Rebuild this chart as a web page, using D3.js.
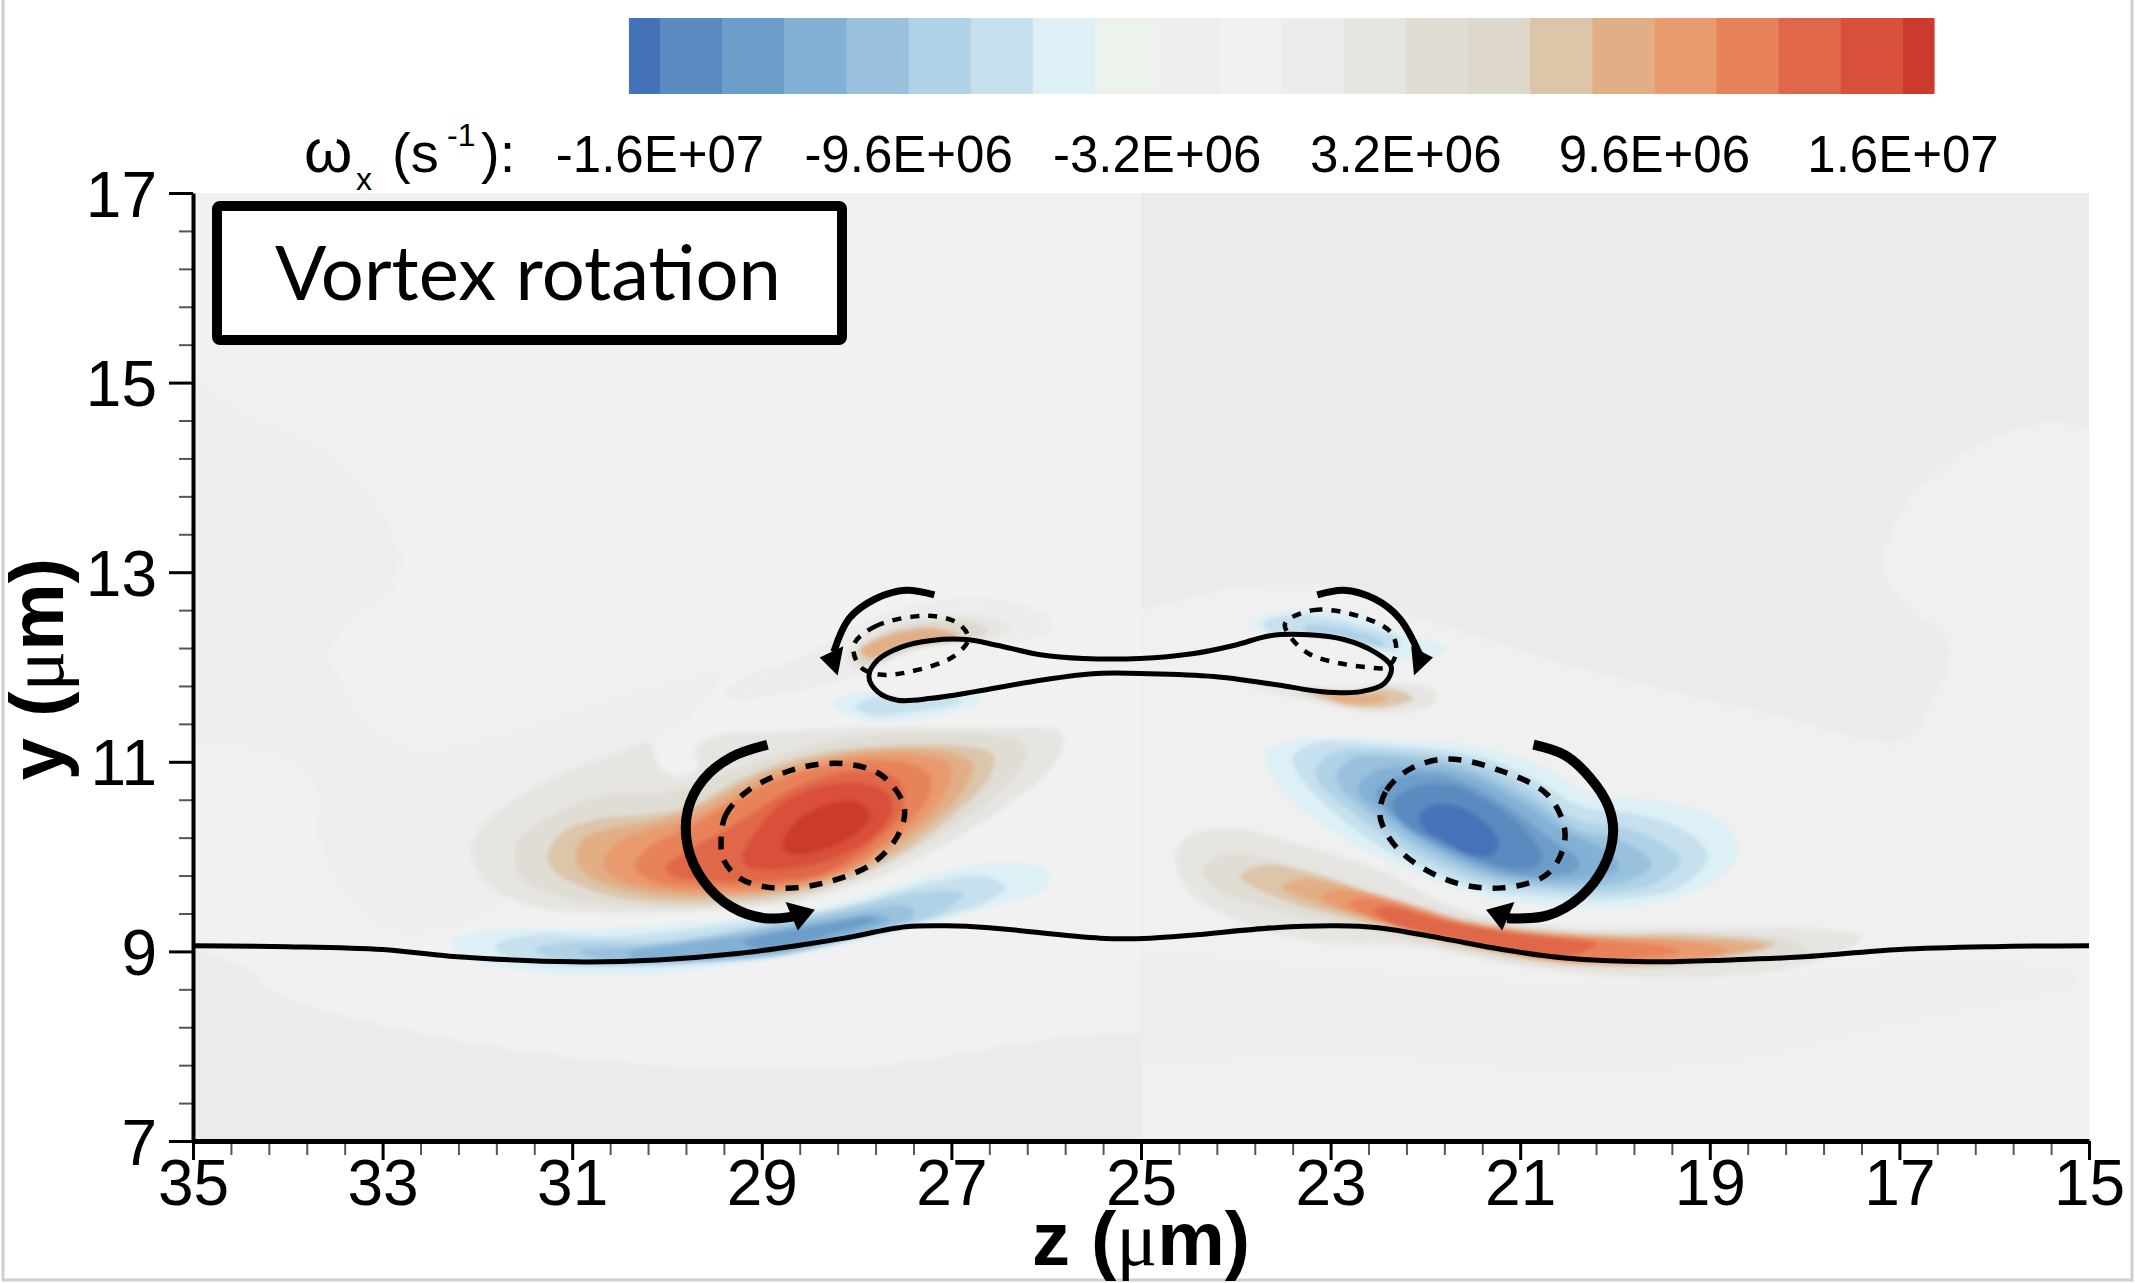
<!DOCTYPE html>
<html>
<head>
<meta charset="utf-8">
<script src="https://cdn.jsdelivr.net/npm/d3@7"></script>
<style>
  html, body { margin: 0; padding: 0; background: #fff; }
  svg { display: block; }
  text { font-family: "Liberation Sans", Arial, sans-serif; fill: #000; }
</style>
</head>
<body>
<svg id="chart" width="2135" height="1283"></svg>
<script>
// tick labels and colour levels
const zMajor = [35, 33, 31, 29, 27, 25, 23, 21, 19, 17, 15];
const yMajor = [17, 15, 13, 11, 9, 7];
const legendTicks = [-1.6e7, -9.6e6, -3.2e6, 3.2e6, 9.6e6, 1.6e7];
const legendLabels = ['-1.6E+07', '-9.6E+06', '-3.2E+06', '3.2E+06', '9.6E+06', '1.6E+07'];
const levelColors = ['#4472b8', '#5a8abf', '#6d9dc9', '#83b0d5', '#99c1de', '#afd2e6', '#c6e0ee', '#ddf0f6',
    '#ebf3ec', '#eeeeee', '#f1f1f1', '#ececec', '#e6e5e2', '#e0ddd4', '#ddd8cb', '#dcc5a9',
    '#e2ae86', '#e99a6e', '#e8825a', '#e0674a', '#d9503a', '#cb3a2c'];
const levelEdges = [-1.6e7, -1.44e7, -1.28e7, -1.12e7, -9.6e6, -8e6, -6.4e6, -4.8e6, -3.2e6, -1.6e6, 0,
    1.6e6, 3.2e6, 4.8e6, 6.4e6, 8e6, 9.6e6, 1.12e7, 1.28e7, 1.44e7, 1.6e7];

// faint background patches, [z, y]
const backLeftSide = [[35.4, 15.1], [34.39, 14.64], [33.42, 14.15], [32.84, 13.27], [32.9, 12.84], [33.48, 12.36],
    [33.54, 12.04], [33.09, 11.34], [32.64, 11.12], [31.16, 11.47], [30.1, 11.8], [29.41, 11.9], [30.12, 11.2],
    [31, 10.4], [31.9, 9.4], [33, 9.25], [33.6, 10.0], [33.74, 10.81], [34.19, 11.09], [34.84, 11.2], [35.4, 11.3]];
const backLeftBottom = [[35.4, 9.0], [34.4, 8.8], [34.13, 8.56], [31.8, 7.99], [29.22, 7.75], [27.92, 7.78],
    [24.6, 8.0], [24.6, 6.7], [35.4, 6.7]];
const backRightTop = [[25.4, 17.4], [14.7, 17.4], [14.7, 14.6], [15.5, 14.58], [16.3, 14.27], [16.97, 13.67],
    [17.17, 13.07], [16.97, 12.69], [16.5, 12.28], [16.5, 11.97], [16.97, 11.23], [17.3, 11.23], [18.31, 11.49],
    [20.31, 11.97], [21.99, 12.5], [23, 12.85], [24, 12.84], [25.4, 12.7]];
const backRightBottom = [[25.6, 8.87], [22.99, 8.77], [20.31, 8.63], [18.31, 8.72], [16.3, 8.87], [15.1, 8.70],
    [15.3, 8.63], [16.97, 8.28], [18.98, 7.85], [20.98, 7.80], [22.99, 7.96], [25.6, 7.96]];

// vorticity bands, [value, [[z, y], ...]], outermost first
const leftVortex = [
    [2.4e6, [[32.07, 10.10], [31.85, 10.42], [31.20, 10.84], [30.54, 11.09], [30.17, 11.20], [30.10, 10.98], [29.88, 10.84], [29.67, 10.95], [29.71, 11.12], [29.49, 11.27], [28.88, 11.32], [27.92, 11.36], [26.60, 11.36], [25.86, 11.32], [25.82, 11.16], [25.99, 10.88], [26.43, 10.53], [27.04, 10.14], [27.74, 9.79], [28.57, 9.54], [29.45, 9.44], [30.54, 9.40], [31.41, 9.47], [31.94, 9.75]]],
    [4.0e6, [[31.61, 10.00], [31.57, 10.18], [31.24, 10.42], [30.67, 10.65], [29.97, 10.69], [29.45, 10.86], [28.88, 11.05], [28.13, 11.25], [27.04, 11.30], [26.26, 11.21], [26.21, 11.05], [26.43, 10.74], [27.04, 10.28], [27.74, 9.89], [28.57, 9.58], [29.45, 9.47], [30.32, 9.47], [31.15, 9.58], [31.55, 9.79]]],
    [7.2e6, [[31.26, 10.00], [31.11, 10.25], [30.76, 10.39], [30.23, 10.44], [29.80, 10.51], [29.23, 10.81], [28.57, 11.05], [27.83, 11.16], [26.82, 11.16], [26.56, 11.07], [26.60, 10.84], [27.04, 10.39], [27.65, 9.96], [28.44, 9.65], [29.40, 9.52], [30.32, 9.54], [30.89, 9.68], [31.20, 9.86]]],
    [8.8e6, [[30.96, 10.00], [30.89, 10.18], [30.58, 10.30], [30.15, 10.37], [29.66, 10.53], [28.97, 10.88], [28.13, 11.09], [27.13, 11.12], [26.78, 10.98], [26.87, 10.70], [27.30, 10.28], [27.83, 9.93], [28.57, 9.67], [29.45, 9.58], [30.23, 9.61], [30.76, 9.75], [30.93, 9.89]]],
    [1.04e7, [[30.67, 9.93], [30.54, 10.14], [30.19, 10.28], [29.67, 10.44], [28.79, 10.88], [28.00, 11.07], [27.30, 11.07], [27.00, 10.95], [27.09, 10.63], [27.52, 10.21], [28.05, 9.86], [28.79, 9.65], [29.58, 9.61], [30.23, 9.68], [30.58, 9.79]]],
    [1.2e7, [[30.34, 9.89], [30.19, 10.10], [29.80, 10.30], [28.79, 10.83], [28.05, 11.00], [27.43, 10.98], [27.22, 10.84], [27.26, 10.60], [27.65, 10.18], [28.13, 9.86], [28.79, 9.70], [29.58, 9.67], [30.15, 9.74]]],
    [1.36e7, [[30.02, 9.88], [29.84, 10.03], [29.32, 10.32], [28.66, 10.72], [28.09, 10.90], [27.65, 10.86], [27.52, 10.74], [27.52, 10.49], [27.83, 10.14], [28.35, 9.82], [28.97, 9.74], [29.58, 9.74], [29.93, 9.79]]],
    [1.52e7, [[29.21, 9.98], [29.10, 10.21], [28.79, 10.56], [28.35, 10.75], [27.92, 10.77], [27.65, 10.65], [27.65, 10.42], [27.92, 10.14], [28.40, 9.93], [28.88, 9.86], [29.14, 9.89]]],
    [1.65e7, [[28.78, 10.14], [28.66, 10.35], [28.35, 10.54], [28.00, 10.58], [27.85, 10.44], [27.96, 10.28], [28.27, 10.10], [28.62, 10.02], [28.77, 10.07]]]
];
const leftWall = [
    [-5.6e6, [[32.25, 9.12], [31.85, 9.23], [30.76, 9.24], [29.45, 9.33], [28.35, 9.47], [27.26, 9.79], [26.60, 9.93], [25.99, 9.86], [25.99, 9.68], [26.60, 9.47], [27.48, 9.23], [28.79, 8.95], [30.10, 8.77], [31.41, 8.79], [32.16, 8.95]]],
    [-7.2e6, [[31.81, 9.07], [31.41, 9.17], [30.54, 9.16], [29.23, 9.30], [28.13, 9.47], [27.26, 9.72], [26.65, 9.79], [26.43, 9.68], [26.60, 9.54], [27.48, 9.26], [28.57, 9.02], [29.67, 8.87], [30.54, 8.84], [31.41, 8.87], [31.76, 8.98]]],
    [-8.8e6, [[31.39, 9.02], [30.98, 9.10], [30.10, 9.10], [28.79, 9.31], [27.92, 9.51], [27.26, 9.63], [26.87, 9.61], [27.09, 9.42], [27.92, 9.16], [28.79, 8.96], [30.10, 8.86], [30.98, 8.87]]],
    [-1.04e7, [[30.93, 9.00], [30.10, 9.07], [28.79, 9.28], [27.92, 9.44], [27.44, 9.47], [27.39, 9.38], [27.92, 9.19], [28.79, 8.96], [29.67, 8.89], [30.54, 8.89]]],
    [-1.2e7, [[30.41, 8.98], [29.23, 9.16], [28.35, 9.31], [27.74, 9.38], [27.65, 9.33], [28.13, 9.16], [28.79, 9.00], [29.67, 8.91], [30.32, 8.92]]],
    [-1.36e7, [[29.2, 9.1], [28.4, 9.28], [27.85, 9.37], [27.8, 9.33], [28.3, 9.17], [28.9, 9.02]]]
];
const rightVortex = [
    [-5.6e6, [[23.70, 11.09], [23.37, 11.23], [22.28, 11.23], [21.41, 11.16], [20.75, 10.95], [20.27, 10.67], [19.75, 10.61], [19.22, 10.53], [18.78, 10.28], [18.70, 10.00], [19.05, 9.68], [19.88, 9.47], [20.75, 9.49], [21.63, 9.65], [22.63, 10.07], [23.29, 10.49], [23.64, 10.86]]],
    [-7.2e6, [[23.40, 11.05], [23.16, 11.20], [22.46, 11.18], [21.41, 11.05], [20.84, 10.81], [20.36, 10.53], [19.75, 10.44], [19.22, 10.25], [19.02, 10.00], [19.31, 9.68], [19.88, 9.56], [20.75, 9.58], [21.50, 9.68], [22.46, 10.10], [23.07, 10.56], [23.35, 10.88]]],
    [-8.8e6, [[23.16, 10.91], [22.98, 11.09], [22.46, 11.12], [21.50, 11.00], [20.88, 10.70], [20.40, 10.39], [19.88, 10.30], [19.44, 10.10], [19.31, 9.96], [19.53, 9.74], [19.96, 9.63], [20.75, 9.65], [21.41, 9.74], [22.24, 10.10], [22.85, 10.53], [23.11, 10.77]]],
    [-1.04e7, [[22.94, 10.86], [22.76, 11.04], [22.28, 11.05], [21.54, 10.93], [20.88, 10.60], [20.40, 10.28], [19.96, 10.18], [19.61, 9.93], [19.75, 9.79], [20.10, 9.70], [20.75, 9.70], [21.36, 9.79], [22.06, 10.10], [22.63, 10.49], [22.89, 10.72]]],
    [-1.2e7, [[22.72, 10.70], [22.54, 10.90], [22.11, 10.95], [21.54, 10.86], [20.97, 10.56], [20.53, 10.28], [20.01, 10.00], [19.96, 9.86], [20.27, 9.77], [20.75, 9.75], [21.28, 9.82], [21.93, 10.10], [22.46, 10.46]]],
    [-1.36e7, [[22.52, 10.67], [22.28, 10.84], [21.84, 10.86], [21.41, 10.70], [20.97, 10.42], [20.71, 10.21], [20.38, 9.96], [20.40, 9.86], [20.75, 9.79], [21.19, 9.84], [21.84, 10.10], [22.32, 10.42]]],
    [-1.52e7, [[22.35, 10.56], [22.15, 10.72], [21.76, 10.76], [21.41, 10.63], [21.01, 10.35], [20.77, 10.00], [20.84, 9.89], [21.14, 9.88], [21.76, 10.10], [22.24, 10.35]]],
    [-1.65e7, [[22.06, 10.42], [21.93, 10.54], [21.67, 10.53], [21.41, 10.39], [21.23, 10.18], [21.28, 10.03], [21.54, 10.02], [21.84, 10.18], [22.02, 10.30]]]
];
const rightWall = [
    [2.4e6, [[24.64, 10.00], [24.51, 10.21], [24.03, 10.30], [23.37, 10.14], [22.50, 9.86], [21.63, 9.44], [20.53, 9.26], [19.22, 9.25], [18.05, 9.25], [17.4, 9.15], [18.05, 8.84], [19.66, 8.72], [20.97, 8.84], [22.06, 9.05], [23.16, 9.10], [23.81, 9.26], [24.47, 9.61]]],
    [4.0e6, [[24.36, 9.86], [24.12, 10.03], [23.59, 9.96], [22.72, 9.68], [21.63, 9.37], [20.53, 9.21], [19.22, 9.20], [18.17, 9.12], [17.95, 9.0], [19.22, 8.84], [20.53, 8.84], [21.41, 8.96], [22.46, 9.19], [23.59, 9.44], [24.21, 9.65]]],
    [7.2e6, [[23.95, 9.79], [23.72, 9.91], [23.16, 9.82], [22.46, 9.58], [21.41, 9.30], [20.10, 9.18], [19.22, 9.18], [18.3, 9.08], [19.22, 8.87], [20.53, 8.87], [21.49, 9.03], [22.46, 9.26], [23.59, 9.58]]],
    [8.8e6, [[23.51, 9.68], [23.29, 9.77], [22.81, 9.68], [22.06, 9.47], [21.41, 9.26], [20.10, 9.16], [19.22, 9.14], [18.4, 9.06], [19.22, 8.9], [20.53, 8.89], [21.49, 9.05], [22.46, 9.30], [23.16, 9.51]]],
    [1.04e7, [[23.10, 9.58], [22.94, 9.65], [22.46, 9.58], [21.84, 9.37], [20.97, 9.22], [20.10, 9.15], [19.05, 9.08], [18.8, 9.0], [19.22, 8.92], [20.53, 8.89], [21.49, 9.05], [22.46, 9.31], [22.94, 9.47]]],
    [1.2e7, [[22.81, 9.51], [22.63, 9.56], [22.19, 9.47], [21.41, 9.26], [20.53, 9.15], [19.59, 9.07], [19.3, 9.0], [19.88, 8.92], [20.53, 8.91], [21.49, 9.07], [22.46, 9.31]]],
    [1.36e7, [[22.54, 9.44], [22.37, 9.47], [21.84, 9.33], [20.97, 9.18], [20.2, 9.08], [20.5, 8.95], [21.49, 9.09], [22.28, 9.26]]]
];
const bubbleSpots = [
    [8e5, [[29.41, 11.68], [29.2, 11.88], [28.58, 12.1], [28.21, 12.32], [27.44, 12.64], [26.61, 12.72], [25.97, 12.53], [25.97, 12.37], [26.43, 12.25], [26.84, 12.29], [27.44, 12.15], [27.98, 11.92], [28.6, 11.75]]],
    [2.4e6, [[28.12, 12.07], [27.80, 12.43], [27.21, 12.53], [26.61, 12.53], [26.38, 12.41], [26.61, 12.29], [26.84, 12.29], [27.44, 12.16], [27.94, 11.97]]],
    [5.6e6, [[28.03, 12.11], [27.71, 12.37], [27.16, 12.48], [26.75, 12.46], [26.61, 12.39], [26.79, 12.29], [27.44, 12.18], [27.92, 12.00]]],
    [8.8e6, [[27.96, 12.18], [27.66, 12.34], [27.21, 12.41], [26.93, 12.34], [27.07, 12.29], [27.48, 12.23], [27.87, 12.09]]],
    [-5.6e6, [[28.26, 11.62], [27.89, 11.74], [27.44, 11.65], [26.79, 11.72], [26.66, 11.65], [27.44, 11.44], [27.99, 11.46]]],
    [-7.2e6, [[28.01, 11.58], [27.76, 11.69], [27.44, 11.64], [26.98, 11.69], [26.89, 11.64], [27.44, 11.52], [27.85, 11.49]]],
    [-5.6e6, [[23.82, 12.46], [23.41, 12.60], [22.86, 12.60], [22.22, 12.36], [21.76, 12.18], [22.18, 12.06], [22.40, 12.14], [22.86, 12.29], [23.32, 12.34], [23.69, 12.34]]],
    [-7.2e6, [[23.71, 12.46], [23.37, 12.55], [22.77, 12.46], [22.27, 12.29], [22.31, 12.18], [22.72, 12.27], [23.23, 12.34], [23.64, 12.37]]],
    [-8.8e6, [[23.27, 12.43], [22.86, 12.41], [22.43, 12.27], [22.47, 12.21], [22.86, 12.30], [23.25, 12.35]]],
    [2.4e6, [[24.01, 11.85], [23.09, 11.74], [22.43, 11.83], [21.90, 11.74], [21.90, 11.62], [22.49, 11.51], [23.23, 11.65]]],
    [7.2e6, [[23.36, 11.78], [22.68, 11.74], [22.40, 11.78], [22.13, 11.67], [22.40, 11.58], [22.86, 11.60]]],
    [8.8e6, [[23.09, 11.72], [22.63, 11.72], [22.40, 11.69], [22.49, 11.62], [22.86, 11.62]]]
];

// solid interface lines
const wallLine = [[35, 9.06], [34, 9.05], [33, 9.02], [32.29, 8.95], [30.98, 8.89], [30.10, 8.91], [29.23, 8.98], [28.57, 9.07], [28.13, 9.14], [27.48, 9.26], [27.04, 9.27], [26.60, 9.25], [25.43, 9.14], [24.9, 9.14], [24.47, 9.17], [23.59, 9.25], [22.94, 9.27], [22.50, 9.25], [21.84, 9.14], [21.19, 9.02], [20.53, 8.93], [19.66, 8.89], [18.78, 8.91], [18.05, 8.94], [17, 9.02], [16, 9.05], [15, 9.06]];
const bubbleLine = [[27.87, 11.90], [27.78, 12.07], [27.53, 12.21], [27.21, 12.28], [26.84, 12.29], [26.52, 12.23], [26.06, 12.13], [25.61, 12.09], [25.01, 12.09], [24.46, 12.14], [24.01, 12.23], [23.64, 12.33], [23.23, 12.34], [22.86, 12.29], [22.54, 12.16], [22.36, 12.00], [22.43, 11.83], [22.68, 11.74], [23.09, 11.74], [23.55, 11.81], [24.23, 11.90], [24.92, 11.93], [25.51, 11.93], [26.06, 11.86], [26.75, 11.74], [27.21, 11.67], [27.57, 11.65], [27.78, 11.74]];

// dashed vortex outlines
const dashedMainLeft = [[29.43, 10.16], [29.38, 10.44], [29.14, 10.70], [28.62, 10.93], [28.14, 10.98], [27.74, 10.86], [27.50, 10.53], [27.55, 10.25], [27.83, 9.93], [28.35, 9.72], [28.88, 9.67], [29.23, 9.77], [29.40, 9.96]];
const dashedMainRight = [[22.48, 10.44], [22.41, 10.70], [22.15, 10.93], [21.76, 11.03], [21.19, 10.90], [20.71, 10.65], [20.53, 10.28], [20.58, 10.00], [20.75, 9.79], [21.19, 9.67], [21.67, 9.72], [22.11, 9.93], [22.37, 10.18]];
const dashedTopLeft = [[28.03, 12.23], [27.80, 12.43], [27.25, 12.54], [26.93, 12.46], [26.82, 12.30], [26.98, 12.11], [27.44, 11.95], [27.76, 11.92], [27.96, 12.00]];
const dashedTopRight = [[23.48, 12.46], [23.18, 12.60], [22.68, 12.53], [22.36, 12.36], [22.31, 12.14], [22.40, 12.00], [22.63, 12.00], [23.00, 12.06], [23.23, 12.14], [23.41, 12.30]];

// rotation arrows: shaft and head
const arrowMainLeft = [[28.94, 11.18], [29.32, 11.05], [29.62, 10.81], [29.78, 10.49], [29.78, 10.10], [29.62, 9.75], [29.32, 9.47], [28.97, 9.35], [28.66, 9.37]];
const headMainLeft = [[28.75, 9.52], [28.44, 9.44], [28.62, 9.22]];
const arrowMainRight = [[20.86, 11.18], [20.53, 11.07], [20.27, 10.84], [20.07, 10.53], [20.02, 10.25], [20.12, 9.89], [20.36, 9.58], [20.71, 9.38], [21.14, 9.35]];
const headMainRight = [[21.06, 9.52], [21.36, 9.44], [21.19, 9.22]];
const arrowTopLeft = [[27.18, 12.76], [27.48, 12.81], [27.80, 12.72], [28.08, 12.51], [28.24, 12.16]];
const headTopLeft = [[28.39, 12.10], [28.14, 12.22], [28.20, 11.91]];
const arrowTopRight = [[23.14, 12.76], [22.86, 12.81], [22.54, 12.72], [22.27, 12.51], [22.06, 12.13]];
const headTopRight = [[21.92, 12.10], [22.15, 12.22], [22.12, 11.91]];

const svg = d3.select('#chart');

const x = d3.scaleLinear().domain([35, 15]).range([193, 2089]);
const y = d3.scaleLinear().domain([7, 17]).range([1141, 193]);
const legendX = d3.scaleLinear().domain([-1.6e7, 1.6e7]).range([660, 1903]);
const levelColor = d3.scaleThreshold().domain(levelEdges).range(levelColors);

const closedPath = d3.line().x(d => x(d[0])).y(d => y(d[1])).curve(d3.curveCatmullRomClosed.alpha(0.5));
const openPath = d3.line().x(d => x(d[0])).y(d => y(d[1])).curve(d3.curveCatmullRom.alpha(0.5));
const straightPath = d3.line().x(d => x(d[0])).y(d => y(d[1]));

// photo frame
svg.append('rect').attr('x', 3).attr('y', -4).attr('width', 2129).attr('height', 1284)
    .attr('fill', '#fff').attr('stroke', '#cfcfcf').attr('stroke-width', 3);

const defs = svg.append('defs');
defs.append('filter').attr('id', 'soft').attr('x', '-5%').attr('y', '-5%').attr('width', '110%').attr('height', '110%')
    .append('feGaussianBlur').attr('stdDeviation', 2);
defs.append('filter').attr('id', 'faint').attr('x', '-5%').attr('y', '-5%').attr('width', '110%').attr('height', '110%')
    .append('feGaussianBlur').attr('stdDeviation', 3);
defs.append('clipPath').attr('id', 'plotClip').append('rect')
    .attr('x', x(35)).attr('y', y(17)).attr('width', x(15) - x(35)).attr('height', y(7) - y(17));
defs.append('clipPath').attr('id', 'leftClip').append('rect')
    .attr('x', x(35)).attr('y', y(17)).attr('width', x(25) - x(35)).attr('height', y(7) - y(17));
defs.append('clipPath').attr('id', 'rightClip').append('rect')
    .attr('x', x(25)).attr('y', y(17)).attr('width', x(15) - x(25)).attr('height', y(7) - y(17));

// field
const plot = svg.append('g').attr('clip-path', 'url(#plotClip)');
plot.append('rect').attr('x', x(35)).attr('y', y(17)).attr('width', x(25) - x(35)).attr('height', y(7) - y(17)).attr('fill', '#f1f1f1');
plot.append('rect').attr('x', x(25)).attr('y', y(17)).attr('width', x(15) - x(25)).attr('height', y(7) - y(17)).attr('fill', '#f0f0f0');

const backLeft = plot.append('g').attr('clip-path', 'url(#leftClip)');
backLeft.append('path').attr('d', closedPath(backLeftSide)).attr('fill', '#eeeeee').attr('filter', 'url(#faint)');
backLeft.append('path').attr('d', closedPath(backLeftBottom)).attr('fill', '#ebebeb').attr('filter', 'url(#faint)');
const backRight = plot.append('g').attr('clip-path', 'url(#rightClip)');
backRight.append('path').attr('d', closedPath(backRightTop)).attr('fill', '#ebebeb').attr('filter', 'url(#faint)');
backRight.append('path').attr('d', closedPath(backRightBottom)).attr('fill', '#ededed').attr('filter', 'url(#faint)');

const bands = plot.append('g').attr('filter', 'url(#soft)');
[leftVortex, leftWall, rightVortex, rightWall, bubbleSpots].forEach(group => {
    bands.append('g').selectAll('path').data(group).join('path')
        .attr('d', d => closedPath(d[1]))
        .attr('fill', d => levelColor(d[0]));
});

// interface lines
plot.append('path').attr('d', openPath(wallLine)).attr('fill', 'none').attr('stroke', '#000').attr('stroke-width', 5);
plot.append('path').attr('d', closedPath(bubbleLine)).attr('fill', 'none').attr('stroke', '#000').attr('stroke-width', 5);

// dashed outlines
[dashedMainLeft, dashedMainRight].forEach(p => {
    plot.append('path').attr('d', closedPath(p)).attr('fill', 'none').attr('stroke', '#000')
        .attr('stroke-width', 5.5).attr('stroke-dasharray', '13 11');
});
[dashedTopLeft, dashedTopRight].forEach(p => {
    plot.append('path').attr('d', closedPath(p)).attr('fill', 'none').attr('stroke', '#000')
        .attr('stroke-width', 4.5).attr('stroke-dasharray', '9 9');
});

// arrows
[[arrowMainLeft, headMainLeft, 10], [arrowMainRight, headMainRight, 10],
 [arrowTopLeft, headTopLeft, 7], [arrowTopRight, headTopRight, 7]].forEach(([shaft, head, w]) => {
    plot.append('path').attr('d', openPath(shaft)).attr('fill', 'none').attr('stroke', '#000').attr('stroke-width', w);
    plot.append('path').attr('d', straightPath(head) + 'Z').attr('fill', '#000');
});

// axes
function minorTicks(values) {
    const out = [];
    for (let i = 0; i < values.length - 1; i++) {
        const step = (values[i + 1] - values[i]) / 5;
        for (let k = 1; k < 5; k++) out.push(values[i] + k * step);
    }
    return out;
}

const xMinor = svg.append('g').attr('transform', `translate(0,${y(7)})`)
    .call(d3.axisBottom(x).tickValues(minorTicks(zMajor)).tickSize(14).tickFormat(''));
xMinor.select('.domain').remove();
xMinor.selectAll('line').attr('stroke', '#555').attr('stroke-width', 2);

const xAxis = svg.append('g').attr('transform', `translate(0,${y(7)})`)
    .call(d3.axisBottom(x).tickValues(zMajor).tickSize(19).tickSizeOuter(0).tickPadding(0).tickFormat(d3.format('d')));
xAxis.select('.domain').attr('stroke', '#000').attr('stroke-width', 5);
xAxis.selectAll('line').attr('stroke', '#000').attr('stroke-width', 3);
xAxis.selectAll('text').attr('font-size', 64).attr('font-family', '"Liberation Sans"');

const yMinor = svg.append('g').attr('transform', `translate(${x(35)},0)`)
    .call(d3.axisLeft(y).tickValues(minorTicks(yMajor)).tickSize(14).tickFormat(''));
yMinor.select('.domain').remove();
yMinor.selectAll('line').attr('stroke', '#555').attr('stroke-width', 2);

const yAxis = svg.append('g').attr('transform', `translate(${x(35)},0)`)
    .call(d3.axisLeft(y).tickValues(yMajor).tickSize(24).tickSizeOuter(0).tickPadding(12).tickFormat(d3.format('d')));
yAxis.select('.domain').attr('stroke', '#000').attr('stroke-width', 4);
yAxis.selectAll('line').attr('stroke', '#000').attr('stroke-width', 3);
yAxis.selectAll('text').attr('font-size', 64).attr('font-family', '"Liberation Sans"').attr('dy', '0.36em');

function axisTitle(sel, name) {
    sel.attr('font-size', 76).attr('font-weight', 'bold');
    sel.append('tspan').text(name + ' (');
    sel.append('tspan').attr('font-weight', 'normal').style('font-family', '"Liberation Serif"').text('\u03bc');
    sel.append('tspan').text('m)');
}
svg.append('text').attr('x', 1141).attr('y', 1265).attr('text-anchor', 'middle').call(axisTitle, 'z');
svg.append('text').attr('transform', 'translate(63,669) rotate(-90)').attr('text-anchor', 'middle').call(axisTitle, 'y');

// colour bar
const barEdges = [-1.68e7, ...levelEdges, 1.68e7];
svg.append('g').selectAll('rect').data(levelColors).join('rect')
    .attr('x', (d, i) => legendX(barEdges[i]))
    .attr('width', (d, i) => legendX(barEdges[i + 1]) - legendX(barEdges[i]) + 0.5)
    .attr('y', 18).attr('height', 76)
    .attr('fill', d => d);

svg.append('g').selectAll('text').data(legendTicks).join('text')
    .attr('x', d => legendX(d)).attr('y', 172)
    .attr('text-anchor', 'middle').attr('font-size', 51)
    .text((d, i) => legendLabels[i]);

svg.append('text').attr('x', 304).attr('y', 172).attr('font-size', 62).text('\u03c9');
svg.append('text').attr('x', 356).attr('y', 190).attr('font-size', 32).text('x');
svg.append('text').attr('x', 392).attr('y', 172).attr('font-size', 56).text('(s');
svg.append('text').attr('x', 447).attr('y', 146).attr('font-size', 32).text('-1');
svg.append('text').attr('x', 481).attr('y', 172).attr('font-size', 56).text('):');

// annotation box
svg.append('rect').attr('x', 217).attr('y', 206).attr('width', 625).attr('height', 134).attr('rx', 3)
    .attr('fill', '#fff').attr('stroke', '#000').attr('stroke-width', 10);
svg.append('text').attr('x', 528).attr('y', 300).attr('text-anchor', 'middle')
    .attr('font-size', 76).style('font-family', 'Lato').text('Vortex rotation');
</script>
</body>
</html>
